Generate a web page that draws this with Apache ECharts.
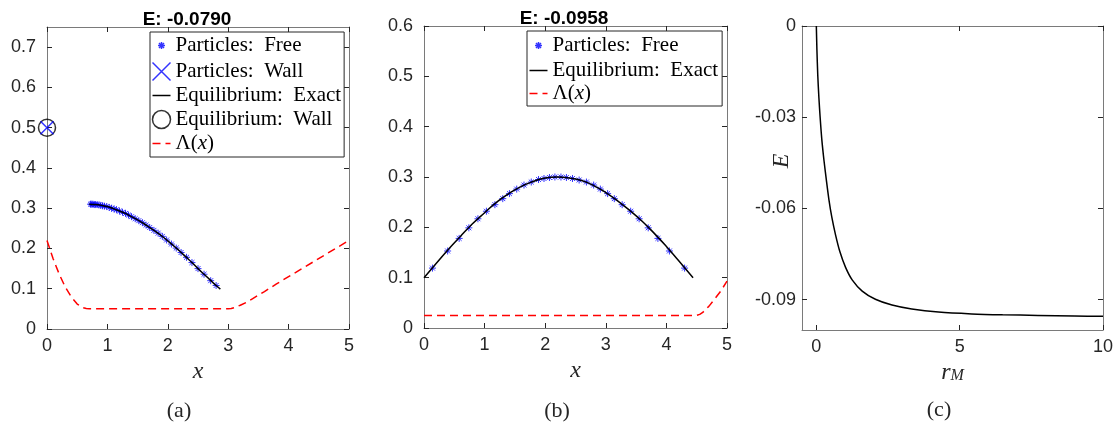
<!DOCTYPE html>
<html><head><meta charset="utf-8">
<script src="https://cdn.jsdelivr.net/npm/echarts@6/dist/echarts.min.js"></script>
<style>html,body{margin:0;padding:0;background:#fff}#c{width:1116px;height:426px}</style>
</head><body><div id="c"></div>
<script>
// ---------- data ----------
const xTicksAB = [0, 1, 2, 3, 4, 5];
const yTicksA = [0, 0.1, 0.2, 0.3, 0.4, 0.5, 0.6, 0.7];
const yTicksB = [0, 0.1, 0.2, 0.3, 0.4, 0.5, 0.6];
const xTicksC = [0, 5, 10];
const yTicksC = [0, -0.03, -0.06, -0.09];

const titleA = 'E: -0.0790';
const titleB = 'E: -0.0958';

// panel (a)
const aFreeX = [0.72,0.74,0.76,0.78,0.80,0.83,0.86,0.89,0.92,0.95,0.99,1.03,1.07,1.11,1.15,1.20,1.25,1.30,1.35,1.40,1.46,1.52,1.58,1.64,1.70,1.77,1.84,1.91,1.98,2.06,2.14,2.22,2.31,2.40,2.50,2.60,2.71,2.80];
const aFreeY = [0.310,0.310,0.310,0.309,0.309,0.309,0.308,0.307,0.306,0.305,0.304,0.302,0.300,0.298,0.296,0.293,0.290,0.287,0.283,0.279,0.274,0.269,0.264,0.258,0.252,0.245,0.238,0.230,0.221,0.211,0.201,0.190,0.178,0.165,0.150,0.136,0.120,0.108];
const aWallX = [0];
const aWallY = [0.5];
const aExactX = [0.70,0.8,0.9,1.0,1.1,1.2,1.3,1.4,1.5,1.6,1.7,1.8,1.9,2.0,2.1,2.2,2.3,2.4,2.5,2.6,2.7,2.8,2.87];
const aExactY = [0.310,0.309,0.307,0.304,0.299,0.293,0.287,0.279,0.271,0.262,0.252,0.242,0.231,0.219,0.206,0.193,0.179,0.165,0.150,0.136,0.122,0.108,0.099];
const aEqWallX = [0];
const aEqWallY = [0.5];
const aLamX = [0,0.1,0.2,0.3,0.4,0.5,0.6,0.65,0.7,3.0,3.05,3.1,3.2,3.3,3.4,3.6,3.8,4.0,4.2,4.4,4.6,4.8,5.0];
const aLamY = [0.220,0.175,0.137,0.105,0.080,0.062,0.053,0.0508,0.050,0.050,0.0508,0.053,0.059,0.066,0.075,0.093,0.112,0.130,0.148,0.166,0.184,0.202,0.220];

// panel (b)
const bFreeX = [0.14,0.39,0.58,0.74,0.89,1.03,1.17,1.30,1.41,1.53,1.65,1.77,1.89,1.98,2.07,2.16,2.26,2.35,2.45,2.56,2.68,2.80,2.91,3.03,3.14,3.27,3.41,3.55,3.70,3.86,4.05,4.30];
const bFreeY = [0.119,0.153,0.178,0.199,0.217,0.232,0.245,0.257,0.267,0.276,0.284,0.290,0.295,0.297,0.299,0.300,0.300,0.299,0.297,0.294,0.290,0.284,0.276,0.267,0.257,0.245,0.232,0.217,0.199,0.178,0.153,0.119];
const bExactX = [0,0.2,0.4,0.6,0.8,1.0,1.2,1.4,1.6,1.8,2.0,2.2,2.4,2.6,2.8,3.0,3.2,3.4,3.6,3.8,4.0,4.2,4.44];
const bExactY = [0.100,0.128,0.156,0.182,0.207,0.229,0.250,0.267,0.281,0.291,0.298,0.300,0.298,0.293,0.283,0.269,0.252,0.233,0.212,0.188,0.162,0.134,0.100];
const bLamX = [0,4.5,4.55,4.6,4.7,4.8,4.9,5.0];
const bLamY = [0.025,0.025,0.027,0.031,0.043,0.058,0.074,0.093];

// panel (c)
const cRM = [0,0.02,0.05,0.09,0.13,0.19,0.27,0.35,0.44,0.54,0.67,0.82,1.02,1.25,1.6,2.06,2.64,3.33,4.26,5.42,6.5,7.73,9,10];
const cE  = [0,-0.0077,-0.0162,-0.0237,-0.0297,-0.0372,-0.0445,-0.0507,-0.0572,-0.0629,-0.0687,-0.0742,-0.0794,-0.0835,-0.0872,-0.0899,-0.0918,-0.0931,-0.0941,-0.0947,-0.0950,-0.0952,-0.0954,-0.0955];

// ---------- helpers ----------
const zip = (xs, ys) => xs.map((x, i) => [x, ys[i]]);
const SANS = "'Liberation Sans', Arial, Helvetica, sans-serif";
const SERIF = "'Liberation Serif', 'Times New Roman', serif";
const AXC = '#7a7a7a', TKC = '#262626';
const STAR = 'path://M0,-5L0,5M-5,0L5,0M-3.5,-3.5L3.5,3.5M-3.5,3.5L3.5,-3.5';
const STAR_ICON = 'path://M-9,-10M9,10M0,-3.5L0,3.5M-3.5,0L3.5,0M-2.5,-2.5L2.5,2.5M-2.5,2.5L2.5,-2.5';
const CROSS = 'path://M0,0L10,10M0,10L10,0';

function axis(gridIndex, position, min, max, ticks, labelMargin, extra) {
  return Object.assign({
    type: 'value', gridIndex, position, min, max,
    axisLine: {show: true, onZero: false, lineStyle: {color: AXC, width: 1}},
    axisTick: {show: true, inside: true, length: 5, customValues: ticks, lineStyle: {color: TKC, width: 1}},
    axisLabel: {show: labelMargin != null, margin: labelMargin == null ? 8 : labelMargin, customValues: ticks,
      fontFamily: SANS, fontSize: 18, color: '#262626'},
    splitLine: {show: false}
  }, extra || {});
}
const xName = (gap) => ({name: 'x', nameLocation: 'middle', nameGap: gap,
  nameTextStyle: {fontFamily: SERIF, fontStyle: 'italic', fontSize: 24, color: '#262626'}});

const legendFmt = (name) => name === 'Λ(x)' ? '{n|Λ(}{i|x}{n|)}' : name.replace(': ', ':\u00a0 ');
const legendText = {fontFamily: SERIF, fontSize: 21, color: '#000', lineHeight: 16,
  rich: {n: {fontFamily: SERIF, fontSize: 21, lineHeight: 16, color: '#000'},
         i: {fontFamily: SERIF, fontSize: 21, lineHeight: 16, fontStyle: 'italic', color: '#000'}}};
const legendBase = {orient: 'vertical', selectedMode: false, itemWidth: 18, itemHeight: 20,
  backgroundColor: '#fff', borderColor: '#262626', borderWidth: 1, formatter: legendFmt,
  textStyle: legendText, itemStyle: {borderWidth: 1.5}, lineStyle: {width: 1.5}};
const noDot = {opacity: 0};

const option = {
  animation: false,
  backgroundColor: '#fff',
  grid: [
    {left: 47, top: 27, width: 302, height: 302},
    {left: 424, top: 26, width: 303, height: 302},
    {left: 802, top: 26, width: 304, height: 304}
  ],
  xAxis: [
    axis(0, 'bottom', 0, 5, xTicksAB, 8, xName(30)),
    axis(0, 'top', 0, 5, xTicksAB, null),
    axis(1, 'bottom', 0, 5, xTicksAB, 8, xName(31)),
    axis(1, 'top', 0, 5, xTicksAB, null),
    axis(2, 'bottom', -0.5, 10, xTicksC, 8, {name: '{r|r}{s|M}', nameLocation: 'middle', nameGap: 27,
      nameTextStyle: {rich: {
        r: {fontFamily: SERIF, fontStyle: 'italic', fontSize: 24, lineHeight: 22, color: '#262626'},
        s: {fontFamily: SERIF, fontStyle: 'italic', fontSize: 16, lineHeight: 14, verticalAlign: 'bottom', color: '#262626'}
      }}}),
    axis(2, 'top', -0.5, 10, xTicksC, null)
  ],
  yAxis: [
    axis(0, 'left', 0, 0.75, yTicksA, 11),
    axis(0, 'right', 0, 0.75, yTicksA, null),
    axis(1, 'left', 0, 0.6, yTicksB, 11),
    axis(1, 'right', 0, 0.6, yTicksB, null),
    axis(2, 'left', -0.1, 0, yTicksC, 6),
    axis(2, 'right', -0.1, 0, yTicksC, null)
  ],
  legend: [
    Object.assign({}, legendBase, {left: 150, top: 32, itemGap: 2, padding: [1, 3, 3, 0],
      data: [{name: 'Particles: Free', icon: STAR_ICON}, 'Particles: Wall',
             {name: 'Equilibrium: Exact', itemStyle: noDot}, 'Equilibrium: Wall',
             {name: 'Λ(x)', itemStyle: noDot}]}),
    Object.assign({}, legendBase, {left: 527, top: 31, itemGap: 2, padding: [2, 4, 2, 0],
      data: [{name: 'Particles: Free', icon: STAR_ICON}, {name: 'Equilibrium: Exact', itemStyle: noDot},
             {name: 'Λ(x)', itemStyle: noDot}]})
  ],
  series: [
    {name: 'Particles: Free', type: 'scatter', xAxisIndex: 0, yAxisIndex: 0, data: zip(aFreeX, aFreeY),
      symbol: STAR, symbolSize: 7, itemStyle: {color: 'none', borderColor: '#0000ff', borderWidth: 1}, z: 2},
    {name: 'Equilibrium: Exact', type: 'line', xAxisIndex: 0, yAxisIndex: 0, data: zip(aExactX, aExactY),
      symbol: 'none', smooth: true, color: '#000', lineStyle: {color: '#000', width: 1.5}, z: 3},
    {name: 'Equilibrium: Wall', type: 'scatter', xAxisIndex: 0, yAxisIndex: 0, data: zip(aEqWallX, aEqWallY), clip: false,
      symbol: 'circle', symbolSize: 17, itemStyle: {color: 'none', borderColor: '#000', borderWidth: 1.5}, z: 3},
    {name: 'Particles: Wall', type: 'scatter', xAxisIndex: 0, yAxisIndex: 0, data: zip(aWallX, aWallY), clip: false,
      symbol: CROSS, symbolSize: 13, itemStyle: {color: 'none', borderColor: '#0000ff', borderWidth: 1.5}, z: 4},
    {name: 'Λ(x)', type: 'line', xAxisIndex: 0, yAxisIndex: 0, data: zip(aLamX, aLamY),
      symbol: 'none', color: '#ff0000', lineStyle: {color: '#ff0000', width: 1.5, type: [8, 5]}, z: 2},

    {name: 'Particles: Free', type: 'scatter', xAxisIndex: 2, yAxisIndex: 2, data: zip(bFreeX, bFreeY),
      symbol: STAR, symbolSize: 7, itemStyle: {color: 'none', borderColor: '#0000ff', borderWidth: 1}, z: 2},
    {name: 'Equilibrium: Exact', type: 'line', xAxisIndex: 2, yAxisIndex: 2, data: zip(bExactX, bExactY),
      symbol: 'none', smooth: true, color: '#000', lineStyle: {color: '#000', width: 1.5}, z: 3},
    {name: 'Λ(x)', type: 'line', xAxisIndex: 2, yAxisIndex: 2, data: zip(bLamX, bLamY),
      symbol: 'none', color: '#ff0000', lineStyle: {color: '#ff0000', width: 1.5, type: [8, 5]}, z: 2},

    {name: 'E(r_M)', type: 'line', xAxisIndex: 4, yAxisIndex: 4, data: zip(cRM, cE),
      symbol: 'none', smooth: 0.25, color: '#000', lineStyle: {color: '#000', width: 1.5}}
  ],
  graphic: [
    {type: 'text', x: 187, y: 20, z: 100, style: {text: titleA, font: 'bold 19px ' + SANS, fill: '#000', align: 'center', verticalAlign: 'middle'}},
    {type: 'text', x: 564, y: 19, z: 100, style: {text: titleB, font: 'bold 19px ' + SANS, fill: '#000', align: 'center', verticalAlign: 'middle'}},
    {type: 'text', x: 782, y: 161, rotation: Math.PI / 2, style: {text: 'E', font: 'italic 24px ' + SERIF, fill: '#262626', align: 'center', verticalAlign: 'middle'}},
    {type: 'text', x: 179, y: 411, style: {text: '(a)', font: '22px ' + SERIF, fill: '#262626', align: 'center', verticalAlign: 'middle'}},
    {type: 'text', x: 557, y: 411, style: {text: '(b)', font: '22px ' + SERIF, fill: '#262626', align: 'center', verticalAlign: 'middle'}},
    {type: 'text', x: 939, y: 410, style: {text: '(c)', font: '22px ' + SERIF, fill: '#262626', align: 'center', verticalAlign: 'middle'}}
  ]
};
const chart = echarts.init(document.getElementById('c'), null, {renderer: 'canvas'});
chart.setOption(option);
</script>
</body></html>
